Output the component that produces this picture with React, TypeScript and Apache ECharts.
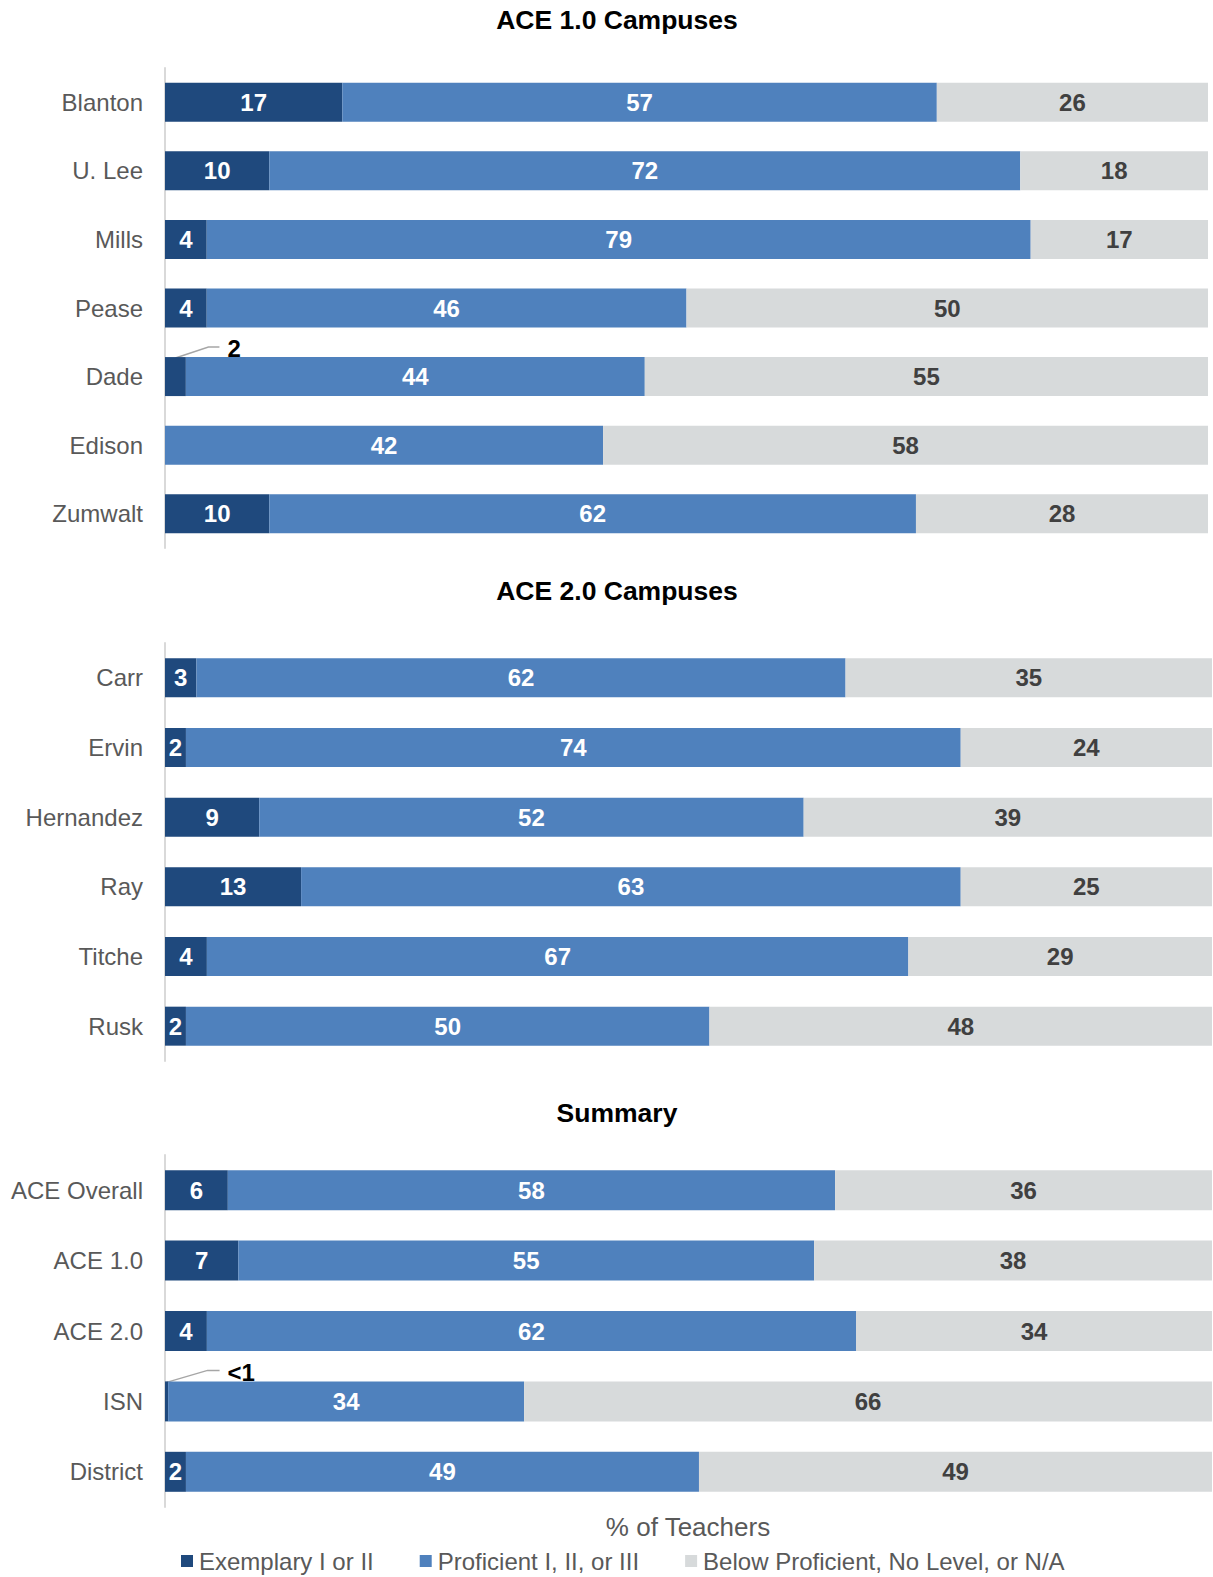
import React, { useEffect, useRef } from "react";
import * as echarts from "echarts";

const legendNames = ["Exemplary I or II", "Proficient I, II, or III", "Below Proficient, No Level, or N/A"];
const colors = ["#1F497D", "#4F81BD", "#D7DADB"];

const titles = ["ACE 1.0 Campuses", "ACE 2.0 Campuses", "Summary"];
const xAxisName = "% of Teachers";

const ace1Categories = ["Blanton", "U. Lee", "Mills", "Pease", "Dade", "Edison", "Zumwalt"];
const ace1Exemplary = [17, 10, 4, 4, 2, 0, 10];
const ace1Proficient = [57, 72, 79, 46, 44, 42, 62];
const ace1Below = [26, 18, 17, 50, 55, 58, 28];

const ace2Categories = ["Carr", "Ervin", "Hernandez", "Ray", "Titche", "Rusk"];
const ace2Exemplary = [3, 2, 9, 13, 4, 2];
const ace2Proficient = [62, 74, 52, 63, 67, 50];
const ace2Below = [35, 24, 39, 25, 29, 48];

const summaryCategories = ["ACE Overall", "ACE 1.0", "ACE 2.0", "ISN", "District"];
const summaryExemplary = [6, 7, 4, 0.3, 2];
const summaryProficient = [58, 55, 62, 34, 49];
const summaryBelow = [36, 38, 34, 66, 49];

// callouts: [gridIndex, categoryIndex, label text]
const callouts: [number, number, string][] = [
  [0, 4, "2"],
  [2, 3, "<1"],
];

const FONT = "'Liberation Sans', Arial, sans-serif";

export default function App() {
  const ref = useRef<HTMLDivElement>(null);
  useEffect(() => {
    if (!ref.current) return;
    const chart = echarts.init(ref.current, null, { renderer: "svg" });

    const grids = [
      { left: 165, right: 5, top: 68, height: 480 },
      { left: 165, right: 1, top: 643, height: 418 },
      { left: 165, right: 1, top: 1155, height: 352 },
    ];
    const cats = [ace1Categories, ace2Categories, summaryCategories];
    const vals = [
      [ace1Exemplary, ace1Proficient, ace1Below],
      [ace2Exemplary, ace2Proficient, ace2Below],
      [summaryExemplary, summaryProficient, summaryBelow],
    ];
    const barWidths = [39, 39, 40];

    const series: any[] = [];
    vals.forEach((group, g) => {
      group.forEach((arr, s) => {
        series.push({
          type: "bar",
          name: legendNames[s],
          xAxisIndex: g,
          yAxisIndex: g,
          stack: "g" + g,
          barWidth: barWidths[g],
          itemStyle: { color: colors[s] },
          label: {
            show: true,
            position: "inside",
            color: s === 2 ? "#404040" : "#FFFFFF",
            fontWeight: "bold",
            fontSize: 24,
            fontFamily: FONT,
            formatter: (p: any) => (p.value > 0 ? String(p.value) : ""),
          },
          data: arr.map((v, i) => {
            const hidden = s === 0 && callouts.some((c) => c[0] === g && c[1] === i);
            return hidden ? { value: v, label: { show: false } } : v;
          }),
        });
      });
    });

    chart.setOption({
      animation: false,
      grid: grids,
      xAxis: grids.map((_, i) => ({ type: "value", gridIndex: i, min: 0, max: 100, show: false })),
      yAxis: grids.map((_, i) => ({
        type: "category",
        gridIndex: i,
        inverse: true,
        data: cats[i],
        axisTick: { show: false },
        axisLine: { show: true, lineStyle: { color: "#D9D9D9", width: 2 } },
        axisLabel: { color: "#595959", fontSize: 24, fontFamily: FONT, margin: 22 },
      })),
      legend: {
        data: legendNames,
        left: 181,
        top: 1549,
        padding: 0,
        itemWidth: 12,
        itemHeight: 12,
        itemGap: 46,
        icon: "rect",
        textStyle: { color: "#595959", fontSize: 24, lineHeight: 24, fontFamily: FONT, padding: [0, 0, 0, 1] },
      },
      series,
    });

    const titleGraphics = [20, 591, 1113].map((y, i) => ({
      type: "text",
      x: 617,
      y,
      style: {
        text: titles[i],
        textAlign: "center",
        textVerticalAlign: "middle",
        fontSize: 26.5,
        fontWeight: "bold",
        fontFamily: FONT,
        fill: "#000000",
      },
    }));

    const calloutStyle = [
      { dx: 33, dy: -11, h: 11, tx: 52, ty: -10 },
      { dx: 41, dy: -12, h: 12, tx: 61, ty: -10 },
    ];
    const extra: any[] = [];
    callouts.forEach(([g, ci, text], k) => {
      const st = calloutStyle[k];
      const v = vals[g][0][ci];
      const p = chart.convertToPixel({ gridIndex: g } as any, [v / 2, ci]) as number[];
      const x0 = p[0];
      const y0 = p[1] - barWidths[g] / 2 + 1;
      extra.push({
        type: "polyline",
        shape: { points: [[x0, y0], [x0 + st.dx, y0 + st.dy], [x0 + st.dx + st.h, y0 + st.dy]] },
        style: { stroke: "#A6A6A6", lineWidth: 1.5, fill: "none" },
      });
      extra.push({
        type: "text",
        x: x0 + st.tx,
        y: y0 + st.ty,
        style: {
          text,
          textAlign: "left",
          textVerticalAlign: "middle",
          fontSize: 24,
          fontWeight: "bold",
          fontFamily: FONT,
          fill: "#000000",
        },
      });
    });

    chart.setOption({
      graphic: [
        ...titleGraphics,
        {
          type: "text",
          x: 688,
          y: 1527,
          style: {
            text: xAxisName,
            textAlign: "center",
            textVerticalAlign: "middle",
            fontSize: 26,
            fontFamily: FONT,
            fill: "#595959",
          },
        },
        ...extra,
      ],
    });

    return () => chart.dispose();
  }, []);
  return (
    <div
      ref={ref}
      style={{ position: "absolute", left: 0, top: 0, width: 1213, height: 1577 }}
    />
  );
}
